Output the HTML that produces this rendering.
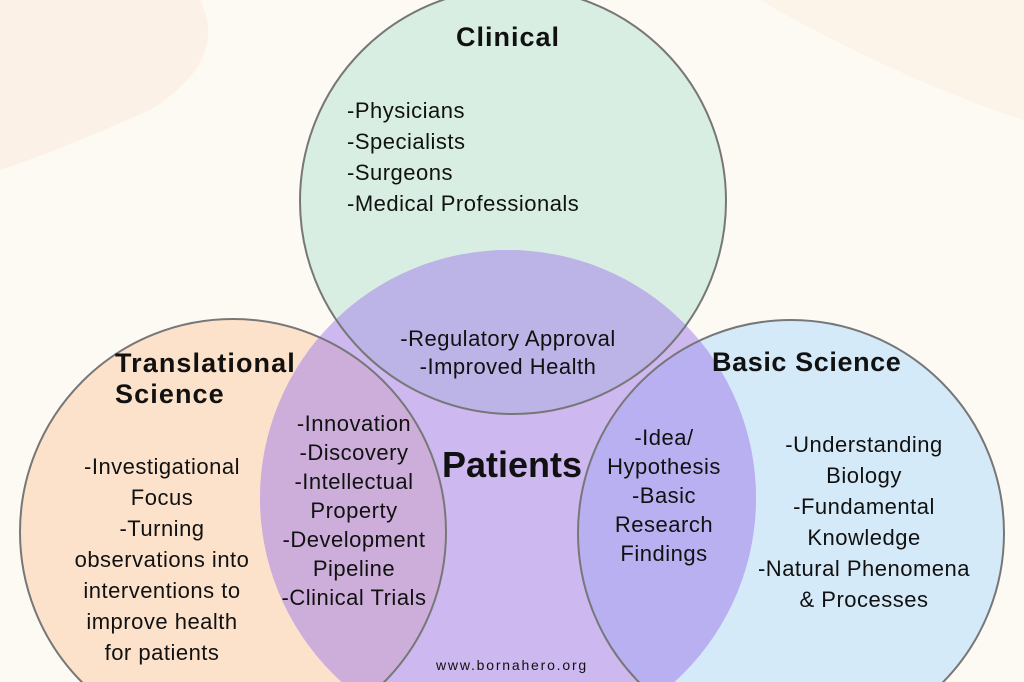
<!DOCTYPE html>
<html><head><meta charset="utf-8"><style>
html,body{margin:0;width:1024px;height:682px;overflow:hidden;background:#fdf9f3;}
svg{display:block}
text{font-family:"Liberation Sans",sans-serif;fill:#111;}
</style></head><body>
<svg width="1024" height="682" viewBox="0 0 1024 682">
<defs>
<clipPath id="pc"><circle cx="508" cy="498" r="248"/></clipPath>
<clipPath id="frame"><rect width="1024" height="682"/></clipPath>
</defs>
<g clip-path="url(#frame)">
<rect width="1024" height="682" fill="#fdf9f3"/>
<path d="M0 0 L200 0 Q230 60 150 110 Q60 150 0 170 Z" fill="#fbeee0" opacity="0.7"/>
<path d="M760 0 L1024 0 L1024 120 Q900 80 760 0Z" fill="#fbeee0" opacity="0.5"/>
<circle cx="513" cy="201" r="213" fill="#d8eee2"/>
<circle cx="233" cy="532" r="213" fill="#fde2cb"/>
<circle cx="791" cy="533" r="213" fill="#d5eaf8"/>
<circle cx="508" cy="498" r="248" fill="#cdb8f0"/>
<g clip-path="url(#pc)">
<circle cx="513" cy="201" r="213" fill="#bcb3e6"/>
<circle cx="233" cy="532" r="213" fill="#cdaedb"/>
<circle cx="791" cy="533" r="213" fill="#b9b0f2"/>
</g>
<g fill="none" stroke="#777" stroke-width="2">
<circle cx="513" cy="201" r="213"/>
<circle cx="233" cy="532" r="213"/>
<circle cx="791" cy="533" r="213"/>
</g>
<g font-size="22" letter-spacing="0.5">
<text x="508" y="46" text-anchor="middle" font-weight="bold" font-size="27" letter-spacing="1">Clinical</text>
<text x="347" y="118">-Physicians</text>
<text x="347" y="149">-Specialists</text>
<text x="347" y="180">-Surgeons</text>
<text x="347" y="211">-Medical Professionals</text>
<text x="508" y="346" text-anchor="middle">-Regulatory Approval</text>
<text x="508" y="374" text-anchor="middle">-Improved Health</text>
<text x="115" y="372" font-weight="bold" font-size="27" letter-spacing="1.1">Translational</text>
<text x="115" y="403" font-weight="bold" font-size="27" letter-spacing="1.1">Science</text>
<g text-anchor="middle">
<text x="162" y="474">-Investigational</text>
<text x="162" y="505">Focus</text>
<text x="162" y="536">-Turning</text>
<text x="162" y="567">observations into</text>
<text x="162" y="598">interventions to</text>
<text x="162" y="629">improve health</text>
<text x="162" y="660">for patients</text>
<text x="354" y="431">-Innovation</text>
<text x="354" y="460">-Discovery</text>
<text x="354" y="489">-Intellectual</text>
<text x="354" y="518">Property</text>
<text x="354" y="547">-Development</text>
<text x="354" y="576">Pipeline</text>
<text x="354" y="605">-Clinical Trials</text>
<text x="512" y="477" font-weight="bold" font-size="36" letter-spacing="0">Patients</text>
<text x="664" y="445">-Idea/</text>
<text x="664" y="474">Hypothesis</text>
<text x="664" y="503">-Basic</text>
<text x="664" y="532">Research</text>
<text x="664" y="561">Findings</text>
<text x="864" y="452">-Understanding</text>
<text x="864" y="483">Biology</text>
<text x="864" y="514">-Fundamental</text>
<text x="864" y="545">Knowledge</text>
<text x="864" y="576">-Natural Phenomena</text>
<text x="864" y="607">&amp; Processes</text>
<text x="512" y="670" font-size="14" letter-spacing="1.8">www.bornahero.org</text>
</g>
<text x="712" y="371" font-weight="bold" font-size="27" letter-spacing="0.6">Basic Science</text>
</g>
</g>
</svg>
</body></html>
